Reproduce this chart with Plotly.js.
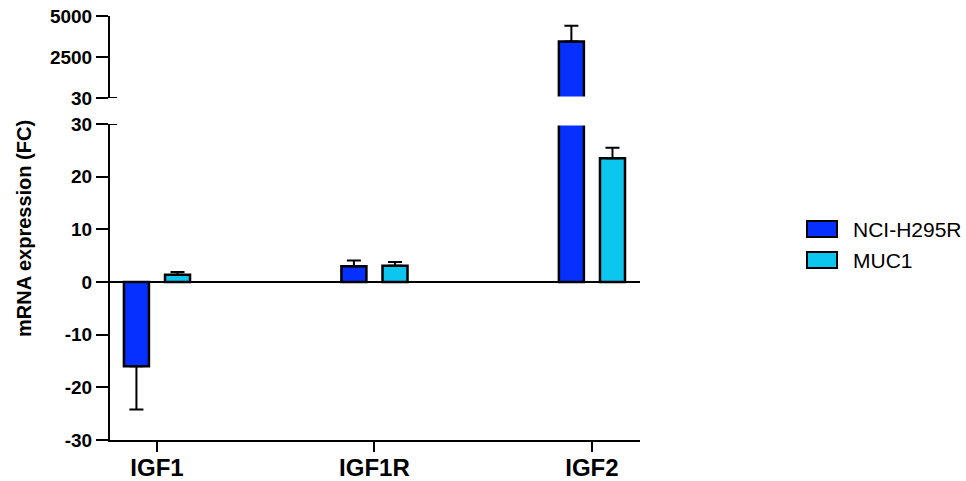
<!DOCTYPE html>
<html>
<head>
<meta charset="utf-8">
<script src="https://cdn.plot.ly/plotly-3.0.1.min.js"></script>
<style>
html, body { margin: 0; padding: 0; background: #ffffff; }
#chart { width: 966px; height: 481px; }
</style>
</head>
<body>
<div id="chart"></div>
<script>
// ---- data ----
var categories = ['IGF1', 'IGF1R', 'IGF2'];
var seriesNames = ['NCI-H295R', 'MUC1'];
var nciValues = [-16.0, 3.0, 3450];
var nciErrors = [8.2, 1.1, 960];
var mucValues = [1.4, 3.1, 23.5];
var mucErrors = [0.5, 0.7, 2.0];
var lowerTicks = [-30, -20, -10, 0, 10, 20, 30];
var upperTicks = [30, 2500, 5000];
var lowerRange = [-30, 30];
var upperRange = [30, 5000];

// ---- styling ----
var FONT = 'Liberation Sans, Arial, Helvetica, sans-serif';
var colors = ['#0530FF', '#0DC6F0'];
var W = 966, H = 481;
var L = 110, R = 326, T = 16, B = 41;
var plotW = W - L - R, plotH = H - T - B;
function px2paperX(p) { return (p - L) / plotW; }
function px2paperY(p) { return (H - B - p) / plotH; }

var barWidth = 0.115;
var offsets = [-0.152, 0.037];

function upErr(vals, errs) { return vals.map(function (v, i) { return v >= 0 ? errs[i] : 0; }); }
function downErr(vals, errs) { return vals.map(function (v, i) { return v < 0 ? errs[i] : 0; }); }
// in the upper (broken) segment only the bars that reach it are drawn
function onlyAbove(vals, lim) { return vals.map(function (v) { return v > lim ? v : null; }); }

function makeTrace(vals, errs, idx, yax) {
  return {
    type: 'bar',
    x: categories,
    y: vals,
    xaxis: 'x',
    yaxis: yax,
    name: seriesNames[idx],
    width: barWidth,
    offset: offsets[idx],
    showlegend: false,
    hoverinfo: 'x+y+name',
    marker: { color: colors[idx], line: { color: '#000000', width: 2.5 } },
    error_y: {
      type: 'data', symmetric: false,
      array: upErr(vals, errs), arrayminus: downErr(vals, errs),
      color: '#000000', thickness: 2, width: 7
    }
  };
}

var data = [
  makeTrace(nciValues, nciErrors, 0, 'y'),
  makeTrace(mucValues, mucErrors, 1, 'y'),
  makeTrace(onlyAbove(nciValues, upperRange[0]), nciErrors, 0, 'y2'),
  makeTrace(onlyAbove(mucValues, upperRange[0]), mucErrors, 1, 'y2')
];

var tickFont = { family: FONT, size: 19, color: '#000000', weight: 'bold' };

var lowerTop = 124, upperBottom = 98;

var layout = {
  width: W, height: H,
  margin: { l: L, r: R, t: T, b: B, pad: 0 },
  paper_bgcolor: '#ffffff',
  plot_bgcolor: 'rgba(0,0,0,0)',
  barmode: 'overlay',
  showlegend: false,
  font: { family: FONT, color: '#000000' },
  xaxis: {
    type: 'category',
    anchor: 'y',
    range: [-0.216, 2.221],
    showline: true, linecolor: '#000000', linewidth: 2,
    ticks: 'outside', ticklen: 10, tickwidth: 2, tickcolor: '#000000',
    ticklabelstandoff: -5,
    tickfont: { family: FONT, size: 24, color: '#000000', weight: 'bold' },
    showgrid: false, zeroline: false,
    fixedrange: true
  },
  yaxis: {
    domain: [0, px2paperY(lowerTop)],
    anchor: 'x',
    range: lowerRange,
    tickvals: lowerTicks,
    ticktext: lowerTicks.map(String),
    showline: true, linecolor: '#000000', linewidth: 2,
    ticks: 'outside', ticklen: 12, tickwidth: 2, tickcolor: '#000000',
    tickfont: tickFont,
    showgrid: false,
    zeroline: true, zerolinecolor: '#000000', zerolinewidth: 2,
    fixedrange: true
  },
  yaxis2: {
    domain: [px2paperY(upperBottom), 1],
    anchor: 'x',
    range: upperRange,
    tickvals: upperTicks,
    ticktext: upperTicks.map(String),
    showline: true, linecolor: '#000000', linewidth: 2,
    ticks: 'outside', ticklen: 12, tickwidth: 2, tickcolor: '#000000',
    tickfont: tickFont,
    showgrid: false, zeroline: false,
    fixedrange: true
  },
  shapes: [
    // white band hiding the clipped bar edges inside the axis break
    { type: 'rect', xref: 'paper', yref: 'paper', layer: 'above',
      x0: px2paperX(119), x1: 1, y0: px2paperY(lowerTop + 1.5), y1: px2paperY(upperBottom - 1.5),
      fillcolor: '#ffffff', line: { width: 0 } },
    // axis break marks
    { type: 'line', xref: 'paper', yref: 'y', x0: 0, x1: px2paperX(117), y0: 30, y1: 30,
      line: { color: '#000000', width: 2 } },
    { type: 'line', xref: 'paper', yref: 'y2', x0: 0, x1: px2paperX(117), y0: 30, y1: 30,
      line: { color: '#000000', width: 2 } },
    // legend swatches
    { type: 'rect', xref: 'paper', yref: 'paper',
      x0: px2paperX(807), x1: px2paperX(837), y0: px2paperY(237), y1: px2paperY(221),
      fillcolor: colors[0], line: { color: '#000000', width: 2 } },
    { type: 'rect', xref: 'paper', yref: 'paper',
      x0: px2paperX(807), x1: px2paperX(837), y0: px2paperY(268), y1: px2paperY(252),
      fillcolor: colors[1], line: { color: '#000000', width: 2 } }
  ],
  annotations: [
    { text: 'mRNA expression (FC)', xref: 'paper', yref: 'paper',
      x: px2paperX(24), y: px2paperY(229), xanchor: 'center', yanchor: 'middle',
      textangle: -90, showarrow: false,
      font: { family: FONT, size: 20, color: '#000000', weight: 'bold' } },
    { text: seriesNames[0], xref: 'paper', yref: 'paper',
      x: px2paperX(851), y: px2paperY(229), xanchor: 'left', yanchor: 'middle',
      showarrow: false, font: { family: FONT, size: 21, color: '#000000' } },
    { text: seriesNames[1], xref: 'paper', yref: 'paper',
      x: px2paperX(851), y: px2paperY(260), xanchor: 'left', yanchor: 'middle',
      showarrow: false, font: { family: FONT, size: 21, color: '#000000' } }
  ]
};

Plotly.newPlot('chart', data, layout, { displayModeBar: false, staticPlot: true });
</script>
</body>
</html>
